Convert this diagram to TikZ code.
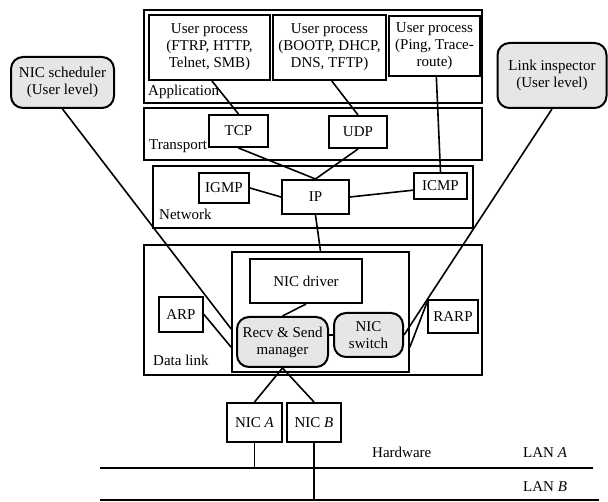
\documentclass[tikz,border=0pt]{standalone}
\usepackage{fontspec}
\setmainfont{Liberation Serif}
\usetikzlibrary{calc}
\definecolor{softgray}{HTML}{E6E6E6}
\tikzset{
  layer/.style={draw, line width=1.6pt, inner sep=0pt},
  box/.style={draw, line width=2pt, inner sep=0pt, align=center, font=\fontsize{15}{17}\selectfont},
  soft/.style={box, fill=softgray, rounded corners=12pt},
  lbl/.style={inner sep=0pt, font=\fontsize{15}{17}\selectfont},
  conn/.style={line width=1.6pt},
  lan/.style={line width=2.4pt}
}
\begin{document}
\begin{tikzpicture}[x=1pt,y=-1pt]
\useasboundingbox (0,0) rectangle (608,502);
% layers
\node[layer, minimum width=338pt, minimum height=93pt] (app) at (313,56.5) {};
\node[layer, minimum width=338pt, minimum height=52pt] (trans) at (313,134) {};
\node[layer, minimum width=320pt, minimum height=62pt] (net) at (313,197) {};
\node[layer, minimum width=338pt, minimum height=130pt] (dl) at (313,310) {};
\node[layer, minimum width=177pt, minimum height=120pt] (inner) at (320.5,312) {};
% labels
\node[lbl, anchor=base west] (lapp) at (148,96) {Application};
\node[lbl, anchor=base west] (ltr) at (149,150) {Transport};
\node[lbl, anchor=base west] (lnet) at (159,220) {Network};
\node[lbl, anchor=base west] (ldl) at (153,366) {Data link};
\node[lbl, anchor=base west] (lhw) at (372,458) {Hardware};
\node[lbl, anchor=base west] (llana) at (523,458) {LAN \textit{A}};
\node[lbl, anchor=base west] (llanb) at (523,491) {LAN \textit{B}};
% application
\node[box, minimum width=121pt, minimum height=65pt] (up1) at (209.5,47.5) {User process\\(FTRP, HTTP,\\Telnet, SMB)};
\node[box, minimum width=113pt, minimum height=65pt] (up2) at (329.5,47.5) {User process\\(BOOTP, DHCP,\\DNS, TFTP)};
\node[box, minimum width=91pt, minimum height=60pt] (up3) at (434.5,46) {User process\\(Ping, Trace-\\route)};
% transport
\node[box, minimum width=59pt, minimum height=32pt] (tcp) at (238.5,131) {TCP};
\node[box, minimum width=58pt, minimum height=32pt] (udp) at (358,132) {UDP};
% network
\node[box, minimum width=50pt, minimum height=30pt] (igmp) at (224,188) {IGMP};
\node[box, minimum width=67pt, minimum height=34pt] (ip) at (315.5,197) {IP};
\node[box, minimum width=53pt, minimum height=26pt] (icmp) at (440.5,186) {ICMP};
% data link
\node[box, minimum width=112pt, minimum height=44pt] (drv) at (306,281) {NIC driver};
\node[box, minimum width=44pt, minimum height=35pt] (arp) at (181,314.5) {ARP};
\node[soft, minimum width=91pt, minimum height=50pt] (mgr) at (282.5,342) {Recv \& Send\\manager};
\node[soft, minimum width=69pt, minimum height=44pt] (sw) at (368.5,335) {NIC\\switch};
\node[box, minimum width=50pt, minimum height=33pt] (rarp) at (453,316.5) {RARP};
% hardware
\node[box, minimum width=55pt, minimum height=39pt] (nica) at (254.5,422.5) {NIC \textit{A}};
\node[box, minimum width=54pt, minimum height=39pt] (nicb) at (314,422.5) {NIC \textit{B}};
% user level
\node[soft, minimum width=103pt, minimum height=51pt] (sched) at (62.5,82.5) {NIC scheduler\\(User level)};
\node[soft, minimum width=109pt, minimum height=65pt] (insp) at (552,75.5) {Link inspector\\(User level)};
% LANs
\coordinate (lanaL) at (100,468);
\coordinate (lanaR) at (593,468);
\coordinate (lanbL) at (100,500);
\coordinate (lanbR) at (599,500);
\draw[lan] (lanaL) -- (lanaR);
\draw[lan] (lanbL) -- (lanbR);
\coordinate (tapa) at (254.5,468);
\coordinate (tapb) at (314,500);
% connectors
\draw[conn] ($(up1.south west)!0.52!(up1.south east)$) -- (tcp.north);
\draw[conn] ($(up2.south west)!0.52!(up2.south east)$) -- (udp.north);
\draw[conn] ($(up3.south west)!0.52!(up3.south east)$) -- (icmp.north);
\draw[conn] (tcp.south) -- (ip.north) -- (udp.south);
\draw[conn] (igmp.east) -- (ip.west);
\draw[conn] (ip.east) -- ($(icmp.north west)!0.65!(icmp.south west)$);
\draw[conn] (ip.south) -- (inner.north);
\draw[conn] (drv.south) -- (mgr.north);
\draw[conn] (mgr.east |- sw.west) -- (sw.west);
\draw[conn] (nica.north) -- (mgr.south) -- (nicb.north);
\draw[conn] (nica.south) -- (tapa);
\draw[conn] (nicb.south) -- (tapb);
\draw[conn] (sched.south) -- ($(inner.north west)!0.64!(inner.south west)$);
\draw[conn] (arp.east) -- ($(inner.north west)!0.79!(inner.south west)$);
\draw[conn] (insp.south) -- (sw.east);
\draw[conn] ($(rarp.north west)!0.1!(rarp.south west)$) -- ($(inner.north east)!0.79!(inner.south east)$);
\end{tikzpicture}
\end{document}
